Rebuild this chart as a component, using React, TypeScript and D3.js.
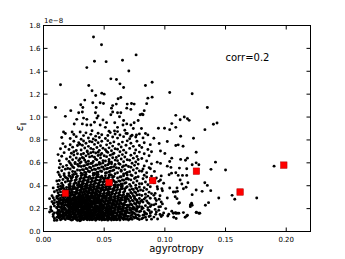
import React from "react";
import * as d3 from "d3";

type P = [number, number];

// y values in units of 1e-8
const bandA: P[] = [
[.006,.192],[.008,.131],[.009,.163],[.007,.178],[.009,.114],[.005,.171],[.008,.149],[.009,.097],
[.011,.123],[.012,.151],[.013,.184],[.014,.102],[.015,.137],[.016,.172],[.017,.113],[.018,.193],[.019,.142],[.011,.164],[.012,.187],[.013,.118],[.014,.146],[.015,.176],[.016,.124],[.017,.158],[.018,.104],[.019,.181],[.012,.134],[.014,.171],[.016,.196],[.018,.143],[.011,.098],[.013,.155],[.015,.109],[.017,.191],[.019,.121],[.012,.169],[.014,.127],[.016,.153],[.018,.166],[.015,.193],[.017,.134],[.019,.161],[.013,.136],
[.021,.112],[.022,.143],[.023,.174],[.024,.103],[.025,.132],[.026,.164],[.027,.191],[.028,.121],[.029,.153],[.020,.182],[.021,.152],[.022,.181],[.023,.126],[.024,.155],[.025,.184],[.026,.113],[.027,.141],[.028,.172],[.029,.104],[.020,.134],[.021,.193],[.022,.106],[.023,.147],[.024,.192],[.025,.115],[.026,.143],[.027,.176],[.028,.097],[.029,.188],[.020,.162],[.021,.131],[.022,.163],[.023,.196],[.024,.124],[.025,.161],[.026,.187],[.027,.123],[.028,.153],[.029,.132],[.020,.113],[.022,.122],[.024,.173],[.026,.133],[.028,.194],[.021,.171],[.023,.101],[.025,.151],[.027,.104],[.029,.172],[.025,.197],
[.031,.108],[.032,.137],[.033,.166],[.034,.195],[.035,.117],[.036,.146],[.037,.175],[.038,.102],[.039,.131],[.030,.161],[.031,.189],[.032,.112],[.033,.141],[.034,.172],[.035,.199],[.036,.121],[.037,.152],[.038,.183],[.039,.109],[.030,.138],[.031,.167],[.032,.196],[.033,.115],[.034,.146],[.035,.174],[.036,.103],[.037,.133],[.038,.162],[.039,.191],[.030,.119],[.031,.148],[.032,.177],[.033,.104],[.034,.126],[.035,.155],[.036,.184],[.037,.112],[.038,.141],[.039,.168],[.030,.094],[.031,.127],[.032,.158],[.033,.187],[.034,.109],[.035,.136],[.036,.165],[.037,.194],[.038,.122],[.039,.151],[.030,.179],[.032,.125],[.034,.157],[.036,.176],[.038,.197],[.031,.101],
[.041,.106],[.042,.135],[.043,.164],[.044,.193],[.045,.114],[.046,.143],[.047,.172],[.048,.101],[.049,.129],[.040,.158],[.041,.187],[.042,.116],[.043,.145],[.044,.174],[.045,.196],[.046,.124],[.047,.153],[.048,.182],[.049,.111],[.040,.139],[.041,.168],[.042,.197],[.043,.118],[.044,.147],[.045,.176],[.046,.105],[.047,.134],[.048,.163],[.049,.192],[.040,.121],[.041,.149],[.042,.178],[.043,.098],[.044,.128],[.045,.156],[.046,.185],[.047,.113],[.048,.142],[.049,.171],[.040,.103],[.041,.131],[.043,.183],[.045,.137],[.047,.192],[.049,.149],[.042,.157],[.044,.109],[.046,.166],[.048,.121],[.040,.186],
[.051,.104],[.052,.133],[.053,.162],[.054,.191],[.055,.112],[.056,.141],[.057,.171],[.058,.103],[.059,.128],[.050,.156],[.051,.185],[.052,.114],[.053,.143],[.054,.172],[.055,.198],[.056,.122],[.057,.151],[.058,.181],[.059,.109],[.050,.137],[.051,.166],[.052,.195],[.053,.117],[.054,.146],[.055,.174],[.056,.101],[.057,.132],[.058,.161],[.059,.189],[.050,.119],[.051,.147],[.052,.176],[.053,.099],[.054,.127],[.055,.154],[.056,.183],[.057,.111],[.058,.139],[.059,.167],[.050,.102],[.052,.158],[.054,.109],[.056,.164],[.058,.121],[.053,.188],
[.061,.105],[.062,.134],[.063,.163],[.064,.192],[.065,.113],[.066,.142],[.067,.171],[.068,.107],[.069,.131],[.060,.159],[.061,.188],[.062,.117],[.063,.146],[.064,.174],[.065,.195],[.066,.123],[.067,.152],[.068,.181],[.069,.112],[.060,.138],[.061,.167],[.062,.196],[.063,.121],[.064,.148],[.065,.177],[.066,.104],[.067,.133],[.068,.162],[.069,.187],[.060,.118],[.061,.146],[.062,.175],[.063,.101],[.064,.127],[.065,.156],[.066,.185],[.067,.114],[.068,.141],[.069,.169],[.060,.102],
[.071,.108],[.072,.139],[.073,.168],[.074,.194],[.075,.118],[.076,.147],[.077,.176],[.078,.112],[.079,.135],[.070,.163],[.071,.191],[.072,.121],[.073,.149],[.074,.128],[.075,.157],[.076,.186],[.077,.115],[.078,.144],[.079,.172],[.070,.132],[.071,.161],[.072,.184],[.073,.106],[.074,.165],[.076,.126],[.077,.197],[.079,.104],[.070,.101],
[.081,.111],[.082,.143],[.083,.172],[.084,.124],[.085,.153],[.086,.189],[.087,.131],[.088,.162],[.089,.108],[.080,.178],[.081,.196],[.082,.119],[.084,.159],[.085,.102],[.087,.183],[.088,.137],[.083,.146],[.089,.171],
[.091,.126],[.093,.171],[.094,.109],[.096,.148],[.092,.193],[.095,.185],[.097,.131],[.099,.162]
];

const bandB: P[] = [
[.006,.214],[.008,.243],[.009,.276],[.007,.261],[.009,.223],[.005,.287],[.008,.295],[.009,.251],
[.011,.206],[.012,.235],[.013,.264],[.014,.293],[.015,.214],[.016,.243],[.017,.272],[.018,.201],[.019,.229],[.011,.258],[.012,.287],[.013,.216],[.014,.245],[.015,.274],[.016,.297],[.017,.224],[.018,.253],[.019,.282],[.011,.211],[.012,.239],[.013,.268],[.014,.209],[.015,.248],[.016,.276],[.017,.205],[.018,.234],[.019,.263],[.011,.292],[.012,.221],[.013,.249],[.014,.278],[.015,.231],[.016,.256],[.017,.285],[.018,.271],
[.021,.204],[.022,.233],[.023,.262],[.024,.291],[.025,.212],[.026,.241],[.027,.271],[.028,.203],[.029,.228],[.020,.256],[.021,.285],[.022,.214],[.023,.243],[.024,.272],[.025,.298],[.026,.222],[.027,.251],[.028,.281],[.029,.209],[.020,.237],[.021,.266],[.022,.295],[.023,.217],[.024,.246],[.025,.274],[.026,.201],[.027,.232],[.028,.261],[.029,.289],[.020,.219],[.021,.247],[.022,.276],[.023,.199],[.024,.227],[.025,.254],[.026,.283],[.027,.211],[.028,.239],[.029,.267],[.020,.296],[.021,.226],[.022,.253],[.023,.281],[.024,.208],[.025,.236],[.026,.264],[.027,.293],[.028,.221],[.029,.248],[.020,.277],
[.031,.207],[.032,.236],[.033,.265],[.034,.294],[.035,.215],[.036,.244],[.037,.273],[.038,.202],[.039,.231],[.030,.259],[.031,.288],[.032,.217],[.033,.246],[.034,.275],[.035,.299],[.036,.223],[.037,.252],[.038,.282],[.039,.211],[.030,.238],[.031,.267],[.032,.296],[.033,.218],[.034,.247],[.035,.276],[.036,.204],[.037,.234],[.038,.263],[.039,.291],[.030,.221],[.031,.249],[.032,.278],[.033,.201],[.034,.229],[.035,.256],[.036,.285],[.037,.213],[.038,.241],[.039,.269],[.030,.297],[.031,.227],[.032,.255],[.033,.284],[.034,.209],[.035,.238],[.036,.266],[.037,.294],[.038,.222],[.039,.251],[.030,.279],
[.041,.205],[.042,.234],[.043,.263],[.044,.292],[.045,.213],[.046,.242],[.047,.271],[.048,.206],[.049,.229],[.040,.257],[.041,.286],[.042,.215],[.043,.244],[.044,.273],[.045,.297],[.046,.221],[.047,.251],[.048,.279],[.049,.208],[.040,.236],[.041,.265],[.042,.294],[.043,.219],[.044,.248],[.045,.277],[.046,.203],[.047,.232],[.048,.261],[.049,.289],[.040,.218],[.041,.246],[.042,.275],[.043,.202],[.044,.226],[.045,.255],[.046,.283],[.047,.212],[.048,.239],[.049,.268],[.040,.298],[.042,.254],[.044,.211],[.046,.262],[.048,.222],[.043,.287],
[.051,.203],[.052,.232],[.053,.261],[.054,.291],[.055,.211],[.056,.241],[.057,.269],[.058,.204],[.059,.227],[.050,.255],[.051,.284],[.052,.213],[.053,.242],[.054,.271],[.055,.296],[.056,.223],[.057,.249],[.058,.278],[.059,.207],[.050,.235],[.051,.264],[.052,.293],[.053,.217],[.054,.245],[.055,.274],[.056,.201],[.057,.231],[.058,.259],[.059,.288],[.050,.216],[.051,.244],[.052,.273],[.053,.202],[.054,.225],[.055,.253],[.056,.282],[.057,.211],[.058,.238],[.059,.266],[.050,.297],
[.061,.206],[.062,.235],[.063,.264],[.064,.293],[.065,.214],[.066,.243],[.067,.272],[.068,.203],[.069,.229],[.060,.258],[.061,.287],[.062,.216],[.063,.245],[.064,.274],[.065,.298],[.066,.224],[.067,.253],[.068,.282],[.069,.211],[.060,.239],[.061,.268],[.062,.296],[.063,.218],[.064,.247],[.065,.276],[.066,.205],[.067,.233],[.068,.262],[.069,.291],[.060,.221],[.061,.249],[.062,.277],[.063,.201],[.065,.236],[.067,.292],
[.071,.208],[.072,.241],[.073,.272],[.074,.213],[.075,.246],[.076,.281],[.077,.219],[.078,.253],[.079,.289],[.070,.226],[.071,.262],[.072,.295],[.073,.231],[.074,.267],[.075,.204],[.076,.238],[.077,.274],[.078,.211],[.079,.244],[.070,.279],[.071,.234],[.073,.202],[.075,.291],[.077,.257],[.079,.218],
[.081,.214],[.082,.257],[.083,.283],[.084,.226],[.085,.268],[.086,.209],[.087,.244],[.088,.291],[.089,.231],[.080,.262],[.082,.204],[.084,.296],[.086,.252],[.088,.218],[.081,.274],
[.091,.233],[.093,.271],[.095,.214],[.097,.258],[.092,.289],[.098,.241]
];

const bandC: P[] = [
[.007,.312],[.009,.347],[.008,.381],
[.011,.306],[.012,.338],[.013,.367],[.014,.395],[.015,.317],[.016,.345],[.017,.374],[.018,.303],[.019,.331],[.011,.359],[.012,.388],[.013,.318],[.014,.346],[.015,.376],[.016,.308],[.017,.327],[.018,.356],[.019,.385],[.012,.311],[.014,.372],[.016,.391],[.019,.362],
[.021,.304],[.022,.333],[.023,.362],[.024,.391],[.025,.312],[.026,.341],[.027,.371],[.028,.303],[.029,.328],[.020,.356],[.021,.385],[.022,.314],[.023,.343],[.024,.372],[.025,.397],[.026,.322],[.027,.351],[.028,.381],[.029,.309],[.020,.337],[.021,.366],[.022,.395],[.023,.317],[.024,.346],[.025,.374],[.026,.301],[.027,.332],[.028,.361],[.029,.389],[.020,.319],[.021,.347],[.022,.376],[.024,.326],[.026,.383],[.028,.336],
[.031,.307],[.032,.336],[.033,.365],[.034,.394],[.035,.315],[.036,.344],[.037,.373],[.038,.302],[.039,.331],[.030,.359],[.031,.388],[.032,.317],[.033,.346],[.034,.375],[.035,.399],[.036,.323],[.037,.352],[.038,.382],[.039,.311],[.030,.338],[.031,.367],[.032,.396],[.033,.318],[.034,.347],[.035,.376],[.036,.304],[.037,.334],[.038,.363],[.039,.391],[.030,.321],[.031,.349],[.032,.378],[.033,.301],[.034,.329],[.035,.356],[.036,.385],[.037,.313],[.038,.341],[.039,.369],[.030,.397],
[.041,.305],[.042,.334],[.043,.363],[.044,.392],[.045,.313],[.046,.342],[.047,.371],[.048,.306],[.049,.329],[.040,.357],[.041,.386],[.042,.315],[.043,.344],[.044,.373],[.045,.397],[.046,.321],[.047,.351],[.048,.379],[.049,.308],[.040,.336],[.041,.365],[.042,.394],[.043,.319],[.044,.348],[.045,.377],[.046,.303],[.047,.332],[.048,.361],[.049,.389],[.040,.318],[.041,.346],[.042,.375],[.043,.302],[.044,.326],[.045,.355],[.046,.383],[.047,.312],[.049,.368],
[.051,.303],[.052,.332],[.053,.361],[.054,.391],[.055,.311],[.056,.341],[.057,.369],[.058,.304],[.059,.327],[.050,.355],[.051,.384],[.052,.313],[.053,.342],[.054,.371],[.055,.396],[.056,.323],[.057,.349],[.058,.378],[.059,.307],[.050,.335],[.051,.364],[.052,.393],[.053,.317],[.054,.345],[.055,.374],[.056,.301],[.057,.331],[.058,.359],[.059,.388],[.050,.316],[.052,.373],[.054,.325],
[.061,.306],[.062,.335],[.063,.364],[.064,.393],[.065,.314],[.066,.343],[.067,.372],[.068,.303],[.069,.329],[.060,.358],[.061,.387],[.062,.316],[.063,.345],[.064,.374],[.065,.398],[.066,.324],[.067,.353],[.068,.382],[.069,.311],[.060,.339],[.061,.368],[.063,.318],[.065,.376],[.067,.305],[.069,.391],
[.071,.308],[.072,.341],[.073,.372],[.074,.313],[.075,.346],[.076,.381],[.077,.319],[.078,.353],[.079,.389],[.070,.326],[.071,.362],[.072,.395],[.073,.331],[.074,.367],[.075,.304],[.076,.338],[.077,.374],[.079,.321],
[.081,.314],[.082,.357],[.083,.383],[.084,.326],[.085,.368],[.086,.309],[.087,.344],[.088,.391],[.089,.331],[.080,.362],
[.092,.333],[.094,.371],[.096,.312],[.098,.356]
];

const bandD: P[] = [
[.012,.412],[.013,.446],[.014,.478],[.015,.421],[.016,.455],[.017,.489],[.018,.432],[.019,.467],[.011,.441],[.013,.496],[.016,.405],[.018,.474],
[.021,.408],[.022,.437],[.023,.466],[.024,.495],[.025,.416],[.026,.445],[.027,.474],[.028,.403],[.029,.432],[.020,.461],[.021,.489],[.022,.418],[.023,.447],[.024,.476],[.025,.499],[.026,.426],[.027,.455],[.028,.484],[.029,.413],[.020,.441],[.022,.481],[.027,.421],
[.031,.406],[.032,.435],[.033,.464],[.034,.493],[.035,.414],[.036,.443],[.037,.472],[.038,.401],[.039,.431],[.030,.459],[.031,.488],[.032,.417],[.033,.446],[.034,.475],[.035,.497],[.036,.424],[.037,.452],[.038,.482],[.039,.411],[.030,.438],[.031,.467],[.032,.496],[.033,.419],[.034,.447],[.035,.476],[.036,.404],[.037,.434],[.039,.463],
[.041,.409],[.042,.438],[.043,.467],[.044,.496],[.045,.417],[.046,.446],[.047,.475],[.048,.404],[.049,.433],[.040,.462],[.041,.491],[.042,.419],[.043,.448],[.044,.477],[.045,.498],[.046,.425],[.047,.454],[.048,.483],[.049,.412],[.040,.439],[.041,.468],[.042,.497],[.043,.421],[.044,.449],[.045,.478],[.046,.405],[.047,.436],[.049,.465],
[.051,.407],[.052,.436],[.053,.465],[.054,.494],[.055,.415],[.056,.444],[.057,.473],[.058,.402],[.059,.431],[.050,.459],[.051,.487],[.052,.416],[.053,.445],[.054,.474],[.055,.496],[.056,.423],[.057,.452],[.058,.481],[.059,.409],[.050,.437],[.051,.466],[.053,.418],[.056,.491],[.058,.442],
[.061,.404],[.062,.442],[.063,.476],[.064,.413],[.065,.451],[.066,.487],[.067,.422],[.068,.459],[.069,.494],[.060,.431],[.061,.468],[.062,.407],[.063,.439],[.064,.478],[.065,.416],[.066,.448],[.068,.427],[.069,.463],
[.071,.412],[.072,.451],[.073,.488],[.074,.426],[.075,.463],[.076,.404],[.077,.441],[.078,.479],[.079,.418],[.070,.456],[.072,.494],[.076,.472],
[.081,.417],[.082,.461],[.083,.492],[.084,.433],[.085,.476],[.086,.408],[.088,.449],[.089,.484],
[.091,.426],[.093,.468],[.095,.438],[.097,.486]
];

const bandE: P[] = [
[.012,.518],[.013,.557],[.014,.589],[.015,.531],[.016,.566],[.017,.504],[.018,.545],[.019,.578],
[.021,.512],[.022,.546],[.023,.581],[.024,.524],[.025,.558],[.026,.593],[.027,.503],[.028,.537],[.029,.571],[.020,.551],[.022,.596],[.024,.566],[.026,.521],[.028,.586],
[.031,.509],[.032,.541],[.033,.572],[.034,.517],[.035,.551],[.036,.584],[.037,.526],[.038,.561],[.039,.594],[.030,.534],[.031,.568],[.032,.503],[.033,.538],[.034,.576],[.035,.513],[.036,.547],[.037,.589],[.038,.522],[.039,.556],[.030,.597],
[.041,.507],[.042,.544],[.043,.579],[.044,.515],[.045,.553],[.046,.587],[.047,.528],[.048,.563],[.049,.598],[.040,.536],[.041,.571],[.042,.509],[.043,.541],[.044,.582],[.045,.519],[.046,.554],[.047,.592],[.048,.524],[.049,.561],[.040,.596],
[.051,.511],[.052,.548],[.053,.583],[.054,.521],[.055,.557],[.056,.591],[.057,.532],[.058,.567],[.059,.505],[.050,.543],[.051,.577],[.052,.514],[.053,.552],[.054,.594],[.055,.527],[.056,.562],[.058,.538],[.059,.586],
[.061,.514],[.062,.553],[.063,.587],[.064,.526],[.065,.563],[.066,.502],[.067,.541],[.068,.579],[.069,.517],[.060,.557],[.062,.594],[.064,.536],[.066,.572],[.068,.508],
[.071,.523],[.072,.562],[.073,.596],[.074,.537],[.075,.578],[.076,.511],[.077,.552],[.078,.589],[.079,.529],[.070,.568],
[.081,.527],[.083,.573],[.085,.514],[.087,.558],[.089,.591],[.082,.546]
];

const bandF: P[] = [
[.013,.618],[.015,.657],[.017,.689],[.012,.672],[.019,.633],
[.021,.612],[.022,.651],[.023,.684],[.024,.627],[.025,.668],[.026,.603],[.027,.642],[.028,.679],[.029,.621],[.025,.697],
[.031,.608],[.032,.647],[.033,.681],[.034,.623],[.035,.661],[.036,.696],[.037,.614],[.038,.652],[.039,.688],[.030,.636],[.031,.673],[.033,.641],[.035,.604],[.037,.677],
[.041,.611],[.042,.649],[.043,.686],[.044,.626],[.045,.664],[.046,.603],[.047,.643],[.048,.681],[.049,.619],[.040,.657],[.041,.694],[.043,.632],[.045,.692],[.047,.671],
[.051,.616],[.052,.654],[.053,.691],[.054,.629],[.055,.667],[.056,.606],[.057,.645],[.058,.684],[.059,.624],[.050,.662],[.052,.699],[.054,.611],[.057,.676],
[.061,.619],[.062,.661],[.063,.697],[.064,.634],[.065,.672],[.066,.609],[.067,.651],[.068,.688],[.069,.627],[.060,.646],
[.071,.622],[.072,.666],[.074,.641],[.075,.684],[.076,.607],[.077,.655],[.079,.694],[.078,.629],
[.081,.638],[.083,.679],[.085,.616],[.087,.662],[.089,.697]
];

const bandG: P[] = [
[.014,.723],[.016,.768],[.018,.741],
[.021,.716],[.022,.758],[.024,.737],[.025,.789],[.027,.708],[.028,.751],[.029,.776],
[.031,.712],[.032,.754],[.033,.791],[.034,.729],[.035,.771],[.036,.703],[.037,.744],[.038,.786],[.039,.726],[.030,.762],
[.041,.718],[.042,.761],[.043,.797],[.044,.734],[.045,.776],[.046,.709],[.047,.749],[.048,.788],[.049,.727],[.040,.783],
[.051,.714],[.052,.757],[.053,.794],[.054,.731],[.055,.772],[.056,.706],[.057,.746],[.058,.783],[.059,.723],
[.061,.719],[.062,.763],[.064,.738],[.065,.781],[.066,.711],[.068,.754],[.069,.792],
[.071,.726],[.072,.771],[.074,.744],[.076,.712],[.077,.788],[.079,.751],
[.081,.734],[.083,.776],[.086,.716],[.088,.759],
[.015,.821],[.018,.856],[.022,.813],[.025,.847],[.027,.829],[.031,.806],[.033,.838],[.035,.862],[.037,.817],[.039,.849],[.041,.809],[.043,.833],[.045,.858],[.046,.821],[.048,.845],[.051,.812],[.053,.839],[.055,.864],[.057,.826],[.059,.851],[.061,.816],[.063,.843],[.066,.829],[.068,.857],[.071,.811],[.073,.841],[.076,.826],[.079,.853],[.082,.818],[.086,.844]
];

const upperTail: P[] = [
[.0412,1.70],[.0478,1.632],[.042,1.487],[.0516,1.484],[.0651,1.496],[.0763,1.543],[.0357,1.432],[.0703,1.403],[.014,1.282],[.0373,1.276],[.0555,1.334],[.0601,1.328],[.063,1.29],[.066,1.258],[.040,1.23],[.043,1.189],[.048,1.209],[.050,1.2],[.034,1.148],[.0099,1.084],[.018,1.006],[.0406,1.125],[.0467,1.125],[.0494,1.119],[.0307,1.108],[.0324,1.084],[.0434,1.084],[.057,1.10],[.060,1.113],[.056,1.078],[.0615,1.16],[.0637,1.171],[.069,1.113],[.0725,1.119],[.0747,1.113],[.0686,1.078],[.072,1.067],[.0796,1.02],[.0813,1.026],[.0225,1.056],[.029,1.038],[.032,1.044],[.0428,1.038],[.045,1.009],[.044,0.991],[.0357,0.98],[.033,0.991],[.0274,0.98],[.0253,0.939],[.049,0.974],[.052,0.951],[.0555,1.02],[.057,1.044],[.061,1.038],[.0626,1.003],[.0637,1.038],[.066,0.97],[.0686,0.94],[.072,0.93],[.0747,0.95],[.078,0.97],[.032,0.94],[.0357,0.93],[.039,0.93],[.042,0.955],[.0467,0.93],[.051,0.91],[.0587,0.95],[.061,0.91],[.0655,0.93],[.0165,0.87],[.0236,0.87],[.0302,0.87],[.040,0.88],[.054,0.877],[.067,0.885],[.074,0.9],
[.084,1.276],[.0895,1.304],[.086,1.165],[.0895,1.174],[.085,1.117],[.104,1.215],[.1225,1.203],[.135,1.084],[.083,1.056],[.081,1.026],[.082,1.02],[.109,1.015],[.1126,0.977],[.116,1.0],[.1186,0.986],[.120,0.971],[.1057,0.943],[.0947,0.902],[.0997,0.902],[.104,0.89],[.109,0.91],[.143,0.948],[.140,0.937],[.133,0.89],[.084,0.856],[.0807,0.9],
[.0585,.878],[.061,.873],[.069,.856],[.072,.832],[.0766,.843]
];

const rightTail: P[] = [
[.113,.832],[.1236,.815],[.111,.757],[.115,.745],[.1258,.693],[.1186,.641],[.117,.623],[.113,.63],[.1258,.6],[.128,.583],[.1225,.583],[.1417,.606],[.112,.554],[.118,.548],[.138,.543],[.15,.537],[.19,.571],[.1055,.51],[.111,.49],[.1145,.49],[.118,.49],[.1126,.45],[.119,.426],[.114,.415],[.1175,.386],[.1153,.374],[.11,.38],[.1104,.351],[.1087,.345],[.1329,.426],[.135,.403],[.1258,.363],[.1307,.351],[.1378,.357],[.1225,.322],[.1554,.316],[.1576,.282],[.1444,.293],[.1757,.293],[.11,.287],[.112,.252],[.1115,.247],[.122,.247],[.1225,.23],[.121,.217],[.136,.252],[.1334,.23],[.1087,.165],[.110,.16],[.1153,.165],[.118,.136],[.1186,.142],[.1258,.165],[.128,.16],[.1093,.113],
[.0909,.815],[.0953,.769],[.102,.786],[.109,.751],[.0964,.704],[.1,.682],[.1057,.641],[.104,.612],[.0937,.606],[.0964,.595],[.102,.571],[.105,.56],[.0881,.548],[.0914,.525],[.109,.513],[.1035,.496],[.0964,.45],[.099,.421],[.0937,.391],[.0975,.374],[.104,.38],[.107,.345],[.1085,.304],[.102,.293],[.0909,.316],[.0953,.282],[.0925,.241],[.0964,.217],[.1007,.2],[.1057,.177],[.109,.16],[.098,.143],[.1024,.136],[.1073,.125],[.0925,.15],
[.121,.232],[.126,.169],[.1288,.16],[.1167,.125],[.1115,.16],[.107,.16],[.1032,.151]
];

const squareX = [0.018, 0.054, 0.090, 0.126, 0.162, 0.198];
const squareY = [0.334, 0.428, 0.445, 0.527, 0.345, 0.580];

const xTicks = [0, 0.05, 0.1, 0.15, 0.2];
const yTicks = [0, 0.2, 0.4, 0.6, 0.8, 1.0, 1.2, 1.4, 1.6, 1.8];

const W = 345, H = 259;
const L = 43.5, R = 310.5, T = 25.5, B = 231.5;
const FONT = "DejaVu Sans, sans-serif";

export default function App() {
  const x = d3.scaleLinear().domain([0, 0.22]).range([L, R]);
  const y = d3.scaleLinear().domain([0, 1.8]).range([B, T]);
  const all = [...bandA, ...bandB, ...bandC, ...bandD, ...bandE, ...bandF, ...bandG, ...upperTail, ...rightTail];
  const tl = 4;
  return (
    <svg width={W} height={H} style={{ position: "absolute", left: 0, top: 0, background: "#fff" }} fontFamily={FONT}>
      <rect x={0} y={0} width={W} height={H} fill="#fff" />
      <g>
        {all.map((p, i) => (
          <circle key={i} cx={x(p[0])} cy={y(p[1])} r={1.45} fill="#000" />
        ))}
      </g>
      <g>
        {squareX.map((v, i) => (
          <rect key={i} x={x(v) - 3.25} y={y(squareY[i]) - 3.25} width={6.5} height={6.5} fill="#ff0000" stroke="#b00000" strokeWidth={0.5} />
        ))}
      </g>
      <rect x={L} y={T} width={R - L} height={B - T} fill="none" stroke="#000" strokeWidth={1} />
      {xTicks.map((t, i) => (
        <g key={"x" + i}>
          <line x1={x(t)} x2={x(t)} y1={B} y2={B - tl} stroke="#000" />
          <line x1={x(t)} x2={x(t)} y1={T} y2={T + tl} stroke="#000" />
          <text x={x(t)} y={241.5} fontSize={7} textAnchor="middle" fill="#000">{d3.format(".2f")(t)}</text>
        </g>
      ))}
      {yTicks.map((t, i) => (
        <g key={"y" + i}>
          <line x1={L} x2={L + tl} y1={y(t)} y2={y(t)} stroke="#000" />
          <line x1={R} x2={R - tl} y1={y(t)} y2={y(t)} stroke="#000" />
          <text x={40.5} y={y(t) + 2.5} fontSize={7} textAnchor="end" fill="#000">{d3.format(".1f")(t)}</text>
        </g>
      ))}
      <text x={44} y={23} fontSize={7} fill="#000">1e−8</text>
      <text x={176.5} y={252} fontSize={10} textAnchor="middle" fill="#000">agyrotropy</text>
      <text x={225.5} y={61} fontSize={10} fill="#000">corr=0.2</text>
      <text transform="translate(23,131) rotate(-90)" fontSize={10} fill="#000">
        <tspan fontStyle="italic">ε</tspan>
        <tspan fontSize={6} dy={2}>∥</tspan>
      </text>
    </svg>
  );
}
